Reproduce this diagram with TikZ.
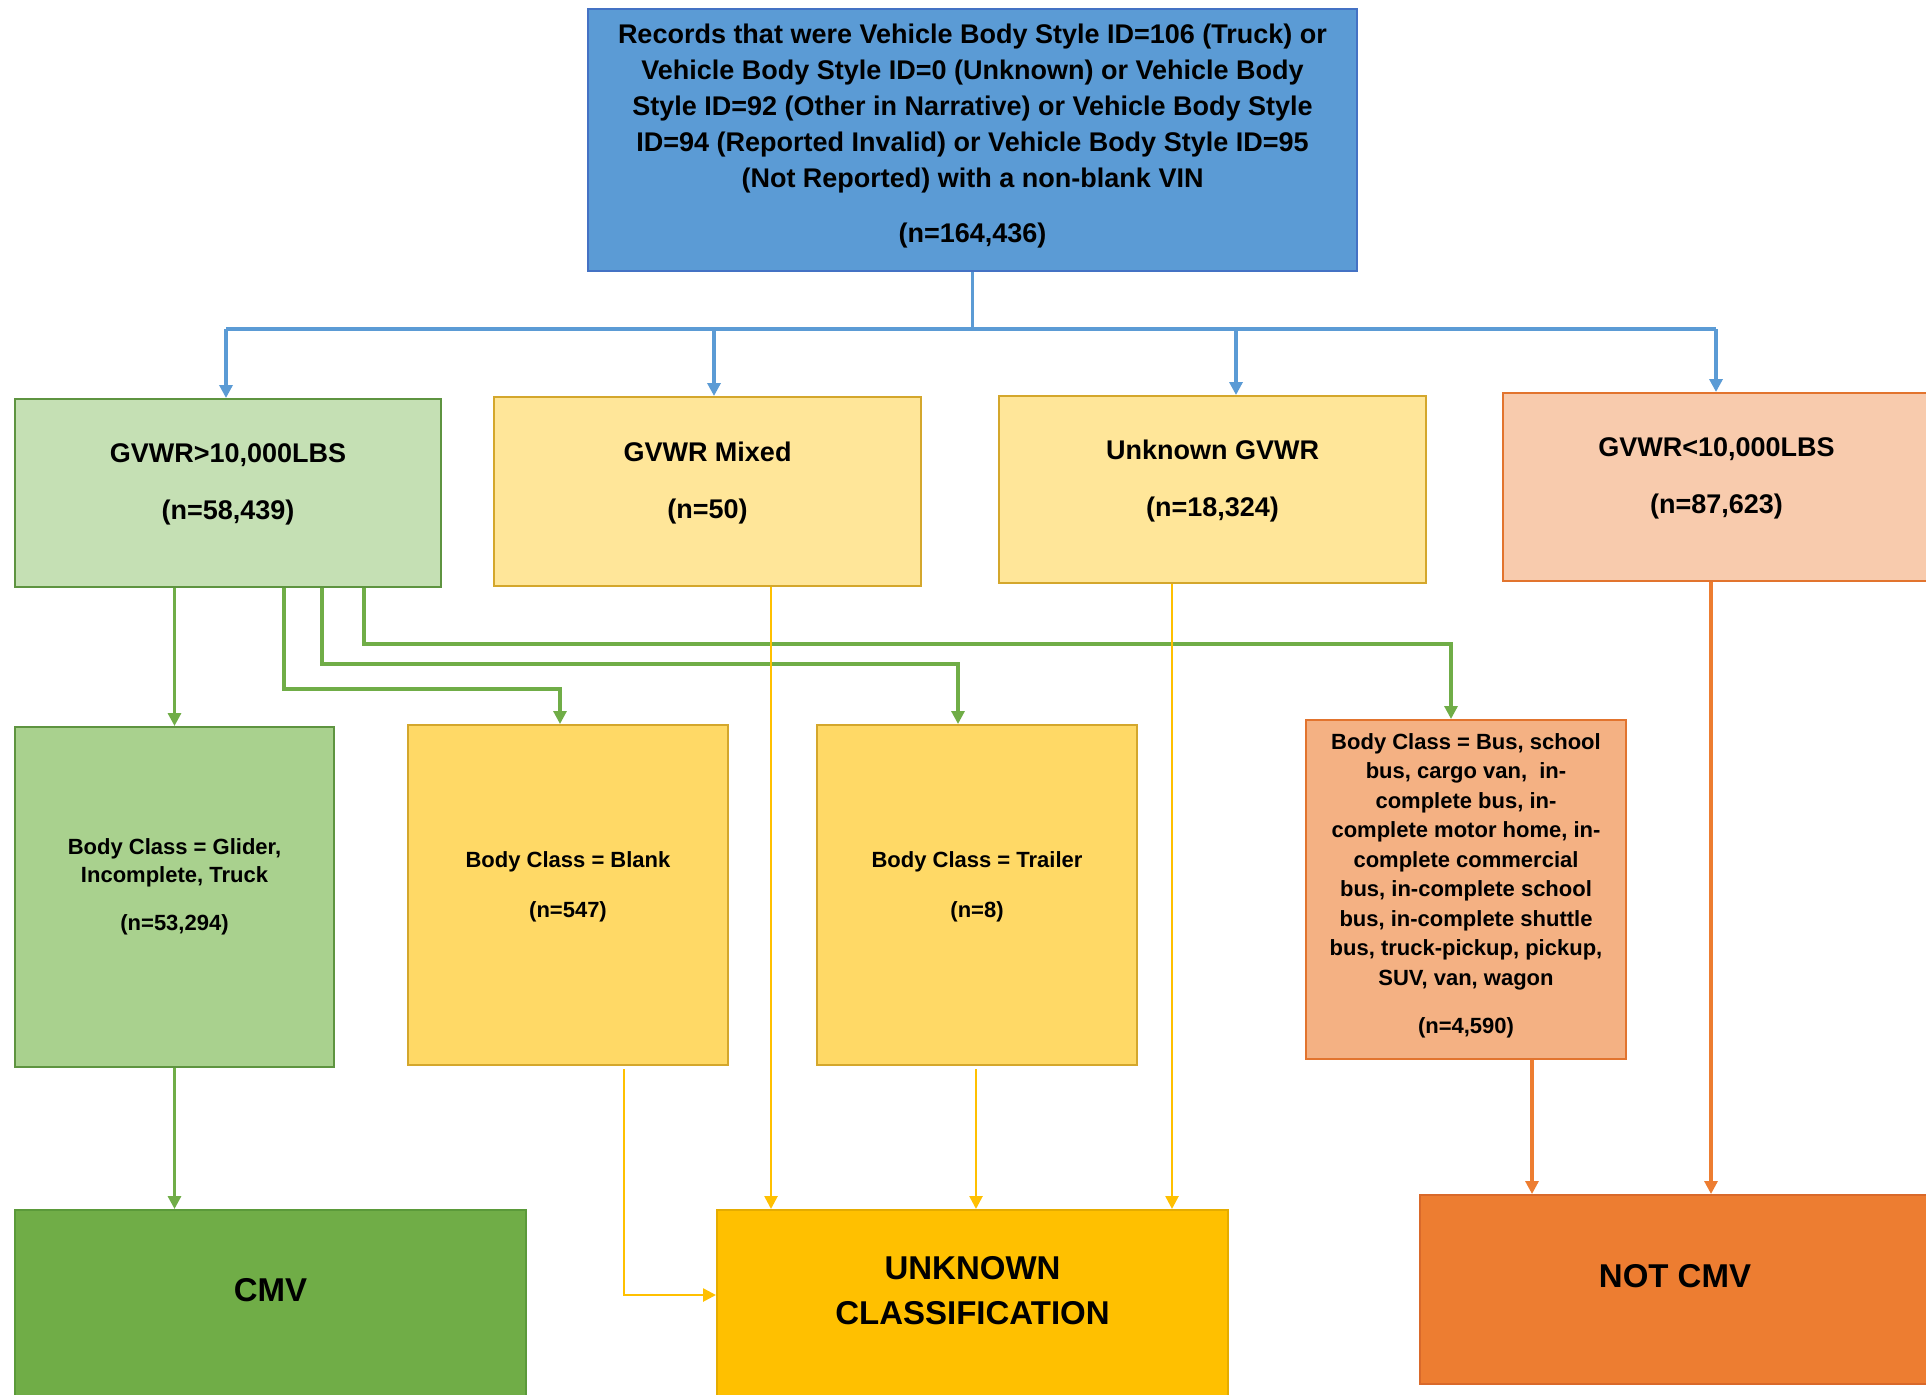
\documentclass[tikz,border=0pt]{standalone}
\usepackage{fontspec}
\setmainfont{Liberation Sans}
\usetikzlibrary{arrows.meta}
\definecolor{topfill}{HTML}{5B9BD5}
\definecolor{topdraw}{HTML}{4472C4}
\definecolor{lgfill}{HTML}{C5E0B4}
\definecolor{lgdraw}{HTML}{5E9440}
\definecolor{lyfill}{HTML}{FFE699}
\definecolor{lydraw}{HTML}{D4A72C}
\definecolor{lofill}{HTML}{F8CBAD}
\definecolor{lodraw}{HTML}{E2742E}
\definecolor{mgfill}{HTML}{A9D18E}
\definecolor{myfill}{HTML}{FFD966}
\definecolor{mofill}{HTML}{F4B183}
\definecolor{dgfill}{HTML}{70AD47}
\definecolor{dgdraw}{HTML}{5B9A3A}
\definecolor{dyfill}{HTML}{FFC000}
\definecolor{dydraw}{HTML}{E5AC00}
\definecolor{dofill}{HTML}{ED7D31}
\definecolor{dodraw}{HTML}{D9692A}
\definecolor{blueln}{HTML}{5B9BD5}
\definecolor{greenln}{HTML}{70AD47}
\definecolor{yellowln}{HTML}{FFC000}
\definecolor{orangeln}{HTML}{ED7D31}
\begin{document}
\begin{tikzpicture}[x=1pt,y=-1pt,
  box/.style={draw, line width=2pt, align=center, inner sep=0pt},
  toptext/.style={font=\fontsize{27}{36}\selectfont\bfseries},
  midtext/.style={font=\fontsize{27}{57}\selectfont\bfseries},
  lowtext/.style={font=\fontsize{22}{28.5}\selectfont\bfseries},
  bigtext/.style={font=\fontsize{33}{45}\selectfont\bfseries},
  tipstyle/.style={-{Triangle[width=13pt,length=13pt]}},
  blueconn/.style={draw=blueln, line width=3.3pt},
  greenconn/.style={draw=greenln, line width=3.1pt, tipstyle},
  yellowconn/.style={draw=yellowln, line width=2.6pt, tipstyle},
  orangeconn/.style={draw=orangeln, line width=3.1pt, tipstyle}
]
\useasboundingbox (0,0) rectangle (1926,1394);
\clip (0,0) rectangle (1926,1394);
\fill[white] (0,0) rectangle (1926,1394);

% top box
\node[box, toptext, fill=topfill, draw=topdraw, minimum width=769pt, minimum height=262pt, text height=218.7pt, text depth=13.1pt] (top) at (972.5,140)
 {Records that were Vehicle Body Style ID=106 (Truck) or\\
  Vehicle Body Style ID=0 (Unknown) or Vehicle Body\\
  Style ID=92 (Other in Narrative) or Vehicle Body Style\\
  ID=94 (Reported Invalid) or Vehicle Body Style ID=95\\
  (Not Reported) with a non-blank VIN\\[19pt]
  (n=164,436)};

% second row
\node[box, midtext, fill=lgfill, draw=lgdraw, minimum width=426pt, minimum height=188pt, text height=76.5pt, text depth=22.9pt] (g1) at (228,493)
 {GVWR>10,000LBS\\(n=58,439)};
\node[box, midtext, fill=lyfill, draw=lydraw, minimum width=427pt, minimum height=189pt, text height=76.5pt, text depth=22.9pt] (mixed) at (707.5,491.5)
 {GVWR Mixed\\(n=50)};
\node[box, midtext, fill=lyfill, draw=lydraw, minimum width=427pt, minimum height=187pt, text height=76.5pt, text depth=22.9pt] (unk) at (1212.5,489.5)
 {Unknown GVWR\\(n=18,324)};
\node[box, midtext, fill=lofill, draw=lodraw, minimum width=427pt, minimum height=188pt, text height=76.5pt, text depth=22.9pt] (lt) at (1716.5,487)
 {GVWR<10,000LBS\\(n=87,623)};

% third row
\node[box, lowtext, fill=mgfill, draw=lgdraw, minimum width=319pt, minimum height=340pt, text height=92.5pt, text depth=24.6pt] (glider) at (174.5,897)
 {Body Class = Glider,\\Incomplete, Truck\\[19.5pt](n=53,294)};
\node[box, lowtext, fill=myfill, draw=lydraw, minimum width=320pt, minimum height=340pt, text height=66pt, text depth=21.8pt] (blank) at (568,895)
 {Body Class = Blank\\[21.5pt](n=547)};
\node[box, lowtext, fill=myfill, draw=lydraw, minimum width=320pt, minimum height=340pt, text height=66pt, text depth=21.8pt] (trailer) at (977,895)
 {Body Class = Trailer\\[21.5pt](n=8)};
\node[box, font=\fontsize{22}{29.5}\selectfont\bfseries, fill=mofill, draw=lodraw, minimum width=320pt, minimum height=339pt, text height=300pt, text depth=12.6pt] (bus) at (1466,889.5)
 {Body Class = Bus, school\\
  bus, cargo van,\ \ in-\\
  complete bus, in-\\
  complete motor home, in-\\
  complete commercial\\
  bus, in-complete school\\
  bus, in-complete shuttle\\
  bus, truck-pickup, pickup,\\
  SUV, van, wagon\\[18.5pt]
  (n=4,590)};

% bottom row
\node[box, bigtext, fill=dgfill, draw=dgdraw, minimum width=511pt, minimum height=190pt, text height=23.6pt, text depth=30pt] (cmv) at (270.5,1305) {CMV};
\node[box, bigtext, fill=dyfill, draw=dydraw, minimum width=511pt, minimum height=190pt, text height=68.6pt, text depth=30pt] (unknown) at (972.5,1305)
 {UNKNOWN\\CLASSIFICATION};
\node[box, bigtext, fill=dofill, draw=dodraw, minimum width=510pt, minimum height=189pt, text height=23.6pt, text depth=27pt] (notcmv) at (1675,1289.5) {NOT CMV};

% blue connectors
\coordinate (b1) at (226,329);
\coordinate (b2) at (714,329);
\coordinate (b3) at (1236,329);
\coordinate (b4) at (1716,329);
\draw[blueconn] (top.south) -- (top.south |- b1);
\draw[blueconn] (b1) -- (b4);
\draw[blueconn, tipstyle] (b1) -- (b1 |- g1.north);
\draw[blueconn, tipstyle] (b2) -- (b2 |- mixed.north);
\draw[blueconn, tipstyle] (b3) -- (b3 |- unk.north);
\draw[blueconn, tipstyle] (b4) -- (b4 |- lt.north);

% green connectors
\draw[greenconn] (g1.south -| glider.north) -- (glider.north);
\coordinate (g2a) at (284,689);
\coordinate (g2b) at (560,689);
\draw[greenconn] (g2a |- g1.south) -- (g2a) -- (g2b) -- (g2b |- blank.north);
\coordinate (g3a) at (322,664);
\coordinate (g3b) at (958,664);
\draw[greenconn] (g3a |- g1.south) -- (g3a) -- (g3b) -- (g3b |- trailer.north);
\coordinate (g4a) at (364,644);
\coordinate (g4b) at (1451,644);
\draw[greenconn] (g4a |- g1.south) -- (g4a) -- (g4b) -- (g4b |- bus.north);
\draw[greenconn] (glider.south) -- (glider.south |- cmv.north);

% yellow connectors
\coordinate (y1) at (771,0);
\coordinate (y2) at (1172,0);
\coordinate (ybs) at (624,1069);
\coordinate (yb) at (624,1295);
\coordinate (yts) at (976,1069);
\draw[yellowconn] (y1 |- mixed.south) -- (y1 |- unknown.north);
\draw[yellowconn] (y2 |- unk.south) -- (y2 |- unknown.north);
\draw[yellowconn] (yts) -- (yts |- unknown.north);
\draw[yellowconn] (ybs) -- (yb) -- (yb -| unknown.west);

% orange connectors
\coordinate (o1) at (1532,0);
\coordinate (o2) at (1711,0);
\draw[orangeconn] (o1 |- bus.south) -- (o1 |- notcmv.north);
\draw[orangeconn] (o2 |- lt.south) -- (o2 |- notcmv.north);
\end{tikzpicture}
\end{document}
